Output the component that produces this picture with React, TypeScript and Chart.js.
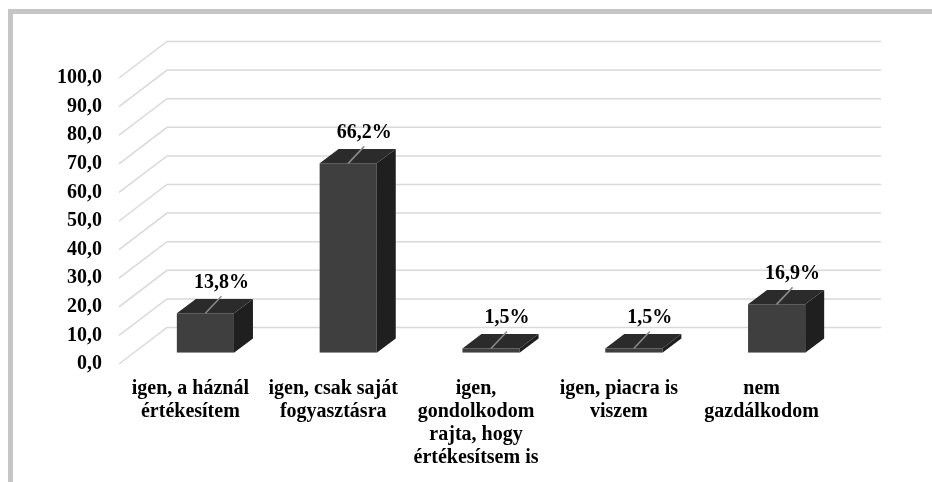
import React, { useEffect, useRef } from "react";
import { Chart, registerables } from "chart.js";

Chart.register(...registerables);

const categories: string[][] = [
  ["igen, a háznál", "értékesítem"],
  ["igen, csak saját", "fogyasztásra"],
  ["igen,", "gondolkodom", "rajta, hogy", "értékesítsem is"],
  ["igen, piacra is", "viszem"],
  ["nem", "gazdálkodom"],
];
const values: number[] = [13.8, 66.2, 1.5, 1.5, 16.9];
const yMin = 0;
const yMax = 100;
const yStep = 10;

const FONT = '"Liberation Serif", "Times New Roman", serif';

// 3D projection offsets (relative to the bar plane)
const FRONT_DX = -15;
const FRONT_DY = 11.3;
const BACK_DX = 33;
const BACK_DY = -25.2;
const BAR_DX = 19;
const BAR_DY = 14.3;

const fmt = (v: number) => v.toFixed(1).replace(".", ",");

const plugin3d = {
  id: "plugin3d",
  beforeDatasetsDraw(chart: any) {
    const { ctx, chartArea, scales } = chart;
    const ys = scales.y;
    ctx.save();
    ctx.strokeStyle = "#d9d9d9";
    ctx.lineWidth = 1.5;
    ys.ticks.forEach((t: any) => {
      const py = ys.getPixelForValue(t.value);
      ctx.beginPath();
      ctx.moveTo(chartArea.left + FRONT_DX, py + FRONT_DY);
      ctx.lineTo(chartArea.left + BACK_DX, py + BACK_DY);
      ctx.lineTo(chartArea.right + BACK_DX, py + BACK_DY);
      ctx.stroke();
    });
    ctx.restore();
  },
  afterDatasetsDraw(chart: any) {
    const { ctx } = chart;
    const meta = chart.getDatasetMeta(0);
    ctx.save();
    meta.data.forEach((bar: any, i: number) => {
      const { x, y, base, width } = bar.getProps(["x", "y", "base", "width"], true);
      const l = x - width / 2;
      const r = x + width / 2;
      // top face
      ctx.fillStyle = "#2b2b2b";
      ctx.beginPath();
      ctx.moveTo(l, y);
      ctx.lineTo(l + BAR_DX, y - BAR_DY);
      ctx.lineTo(r + BAR_DX, y - BAR_DY);
      ctx.lineTo(r, y);
      ctx.closePath();
      ctx.fill();
      // side face
      ctx.fillStyle = "#1f1f1f";
      ctx.beginPath();
      ctx.moveTo(r, y);
      ctx.lineTo(r + BAR_DX, y - BAR_DY);
      ctx.lineTo(r + BAR_DX, base - BAR_DY);
      ctx.lineTo(r, base);
      ctx.closePath();
      ctx.fill();
      // leader line
      ctx.strokeStyle = "#8c8c8c";
      ctx.lineWidth = 1.5;
      ctx.beginPath();
      ctx.moveTo(x, y);
      ctx.lineTo(x + 16, y - 17);
      ctx.stroke();
      // data label
      ctx.fillStyle = "#000";
      ctx.font = `bold 20px ${FONT}`;
      ctx.textAlign = "center";
      ctx.textBaseline = "alphabetic";
      ctx.fillText(fmt(values[i]) + "%", x + 16, y - 25);
    });
    ctx.restore();
  },
};

export default function App() {
  const ref = useRef<HTMLCanvasElement | null>(null);
  useEffect(() => {
    if (!ref.current) return;
    const chart = new Chart(ref.current, {
      type: "bar",
      data: {
        labels: categories,
        datasets: [
          {
            data: values,
            backgroundColor: "#3f3f3f",
            borderWidth: 0,
            barPercentage: 0.4,
            categoryPercentage: 1,
          },
        ],
      },
      options: {
        animation: false,
        responsive: false,
        layout: { padding: { top: 66.7, right: 84, bottom: 0, left: 0 } },
        plugins: { legend: { display: false }, tooltip: { enabled: false } },
        scales: {
          x: {
            grid: { display: false, drawTicks: false },
            border: { display: false },
            ticks: {
              color: "#000",
              font: { family: FONT, size: 20, weight: "bold", lineHeight: 1.15 },
              padding: 25,
              labelOffset: FRONT_DX,
              autoSkip: false,
              maxRotation: 0,
              minRotation: 0,
            },
            afterFit: (s: any) => {
              s.height = 129.3;
            },
          },
          y: {
            min: yMin,
            max: yMax,
            grid: { display: false, drawTicks: false },
            border: { display: false },
            ticks: {
              stepSize: yStep,
              color: "#000",
              font: { family: FONT, size: 20, weight: "bold" },
              padding: 32,
              labelOffset: FRONT_DY,
              callback: (v: any) => fmt(Number(v)),
            },
            afterFit: (s: any) => {
              s.width = 134;
            },
          },
        },
      },
      plugins: [plugin3d],
    } as any);
    return () => chart.destroy();
  }, []);

  return (
    <>
      <div
        style={{
          position: "fixed",
          left: 8,
          top: 9,
          right: 0,
          bottom: 0,
          borderTop: "5px solid #c6c6c6",
          borderLeft: "5px solid #c6c6c6",
          background: "#fff",
        }}
      />
      <canvas
        ref={ref}
        width={932}
        height={482}
        style={{ position: "fixed", left: 0, top: 0, width: 932, height: 482, display: "block" }}
      />
    </>
  );
}
